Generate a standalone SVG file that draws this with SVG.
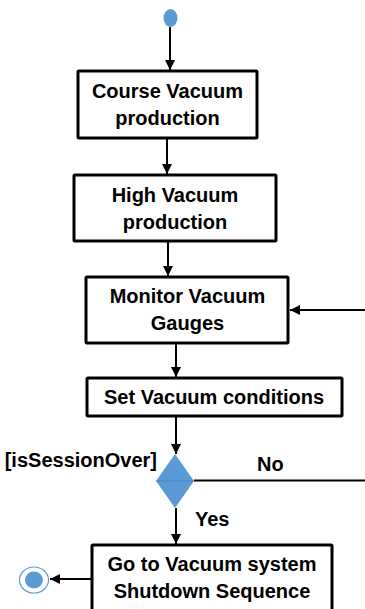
<svg xmlns="http://www.w3.org/2000/svg" width="365" height="609" viewBox="0 0 365 609">
<defs>
<marker id="arr" markerWidth="10" markerHeight="10" viewBox="0 0 10 10" refX="10" refY="5" orient="auto" markerUnits="userSpaceOnUse">
<path d="M0,0 L10,5 L0,10 Z" fill="#000"/>
</marker>
<style>
.box{fill:#fff;stroke:#000;stroke-width:3}
.t{font-family:"Liberation Sans",Arial,sans-serif;font-weight:bold;font-size:20px;fill:#000;text-anchor:middle}
.lbl{font-family:"Liberation Sans",Arial,sans-serif;font-weight:bold;font-size:20px;fill:#000}
.c{stroke:#000;stroke-width:2;fill:none}
.blue{fill:#5B9BD5}
</style>
</defs>
<rect width="365" height="609" fill="#fff"/>
<g id="connectors">
<line class="c" x1="170" y1="27" x2="170" y2="70" marker-end="url(#arr)"/>
<line class="c" x1="167" y1="138" x2="167" y2="174" marker-end="url(#arr)"/>
<line class="c" x1="168" y1="241" x2="168" y2="276" marker-end="url(#arr)"/>
<line class="c" x1="176" y1="343" x2="176" y2="377" marker-end="url(#arr)"/>
<line class="c" x1="176" y1="416" x2="176" y2="454" marker-end="url(#arr)"/>
<line class="c" x1="176" y1="508" x2="176" y2="544" marker-end="url(#arr)"/>
<line class="c" x1="194" y1="480.5" x2="365" y2="480.5"/>
<line class="c" x1="365" y1="310" x2="290" y2="310" marker-end="url(#arr)"/>
<line class="c" x1="91" y1="579" x2="50" y2="579" marker-end="url(#arr)"/>
<text class="lbl" x="157" y="467" text-anchor="end">[isSessionOver]</text>
<text class="lbl" x="257" y="471">No</text>
<text class="lbl" x="195" y="526">Yes</text>
</g>
<g id="start">
<ellipse class="blue" cx="170.5" cy="18" rx="7" ry="9"/>
</g>
<g id="course">
<rect class="box" x="78" y="71" width="179" height="67" rx="1"/>
<text class="t" x="167.5" y="98">Course Vacuum</text>
<text class="t" x="167.5" y="125">production</text>
</g>
<g id="high">
<rect class="box" x="74" y="175" width="202" height="66" rx="1"/>
<text class="t" x="175" y="202">High Vacuum</text>
<text class="t" x="175" y="229">production</text>
</g>
<g id="monitor">
<rect class="box" x="86" y="277" width="202" height="66" rx="1"/>
<text class="t" x="187.5" y="303">Monitor Vacuum</text>
<text class="t" x="187.5" y="330">Gauges</text>
</g>
<g id="set">
<rect class="box" x="87" y="378" width="255" height="38" rx="1"/>
<text class="t" x="214" y="404">Set Vacuum conditions</text>
</g>
<g id="decision">
<polygon class="blue" points="175,454 194,481 175,508 156,481"/>
<line x1="156" y1="481" x2="194" y2="481" stroke="#3f7fbf" stroke-width="0.8"/>
</g>
<g id="shutdown">
<rect class="box" x="92" y="545" width="240" height="70" rx="1"/>
<text class="t" x="212" y="571">Go to Vacuum system</text>
<text class="t" x="212" y="598">Shutdown Sequence</text>
</g>
<g id="end">
<ellipse cx="34" cy="580" rx="14.5" ry="13" fill="#fff" stroke="#5B9BD5" stroke-width="1.2"/>
<ellipse class="blue" cx="34" cy="580" rx="9" ry="8.5"/>
</g>
</svg>
